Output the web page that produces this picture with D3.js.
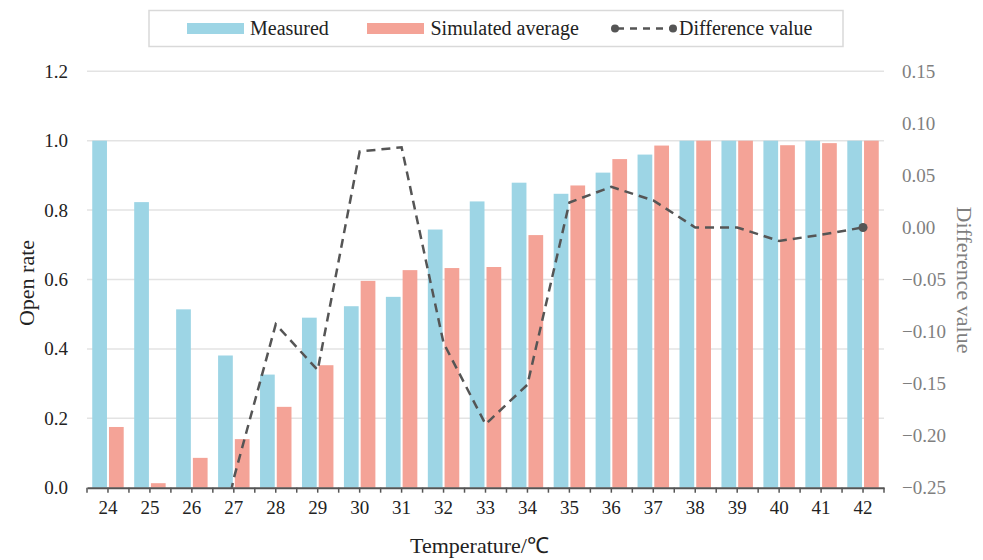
<!DOCTYPE html>
<html><head><meta charset="utf-8">
<script src="https://cdn.jsdelivr.net/npm/d3@7"></script>
<style>body{margin:0;background:#fff}svg{display:block}</style>
</head><body>
<svg id="c" width="983" height="560" font-family="Liberation Serif"></svg>
<script>
const categories = ["24","25","26","27","28","29","30","31","32","33","34","35","36","37","38","39","40","41","42"];
const measured  = [1.0,0.823,0.514,0.381,0.326,0.490,0.523,0.550,0.744,0.825,0.879,0.847,0.908,0.960,1.0,1.0,1.0,1.0,1.0];
const simulated = [0.175,0.013,0.086,0.140,0.233,0.353,0.596,0.627,0.633,0.636,0.728,0.871,0.947,0.986,1.0,1.0,0.987,0.993,1.0];
const difference = [-0.825,-0.810,-0.428,-0.241,-0.093,-0.137,0.073,0.077,-0.111,-0.189,-0.151,0.024,0.039,0.026,0.0,0.0,-0.013,-0.007,0.0];
const leftTicks = [0,0.2,0.4,0.6,0.8,1.0,1.2];
const rightTicks = [0.15,0.10,0.05,0.00,-0.05,-0.10,-0.15,-0.20,-0.25];

const FONT = "Liberation Serif";
const svg = d3.select("#c");
const L = 87, R = 884, T = 71.3, B = 487.7;
const blue = "#9dd5e5", pink = "#f4a397", lineC = "#555555";

const x = d3.scaleBand().domain(categories).range([L,R]).paddingInner(0.25).paddingOuter(0.125);
const xs = d3.scaleBand().domain(["m","s"]).range([0,x.bandwidth()]).paddingInner(0.12);
const y = d3.scaleLinear().domain([0,1.2]).range([B,T]);
const y2 = d3.scaleLinear().domain([-0.25,0.15]).range([B,T]);

// grid
svg.append("g").selectAll("line").data(leftTicks.slice(1)).join("line")
  .attr("x1",L).attr("x2",R).attr("y1",d=>y(d)).attr("y2",d=>y(d))
  .attr("stroke","#e3e3e3").attr("stroke-width",1.5);

// bars
const g = svg.append("g");
g.selectAll("rect.m").data(categories).join("rect").attr("class","m")
  .attr("x",d=>x(d)+xs("m")).attr("width",xs.bandwidth())
  .attr("y",(d,i)=>y(measured[i])).attr("height",(d,i)=>B-y(measured[i])).attr("fill",blue);
g.selectAll("rect.s").data(categories).join("rect").attr("class","s")
  .attr("x",d=>x(d)+xs("s")).attr("width",xs.bandwidth())
  .attr("y",(d,i)=>y(simulated[i])).attr("height",(d,i)=>B-y(simulated[i])).attr("fill",pink);

// line clipped to plot
svg.append("clipPath").attr("id","clip").append("rect").attr("x",L).attr("y",T-10).attr("width",R-L).attr("height",B-T+10);
const cx = d=>x(d)+x.bandwidth()/2;
const line = d3.line().x((d,i)=>cx(categories[i])).y(d=>y2(d));
svg.append("path").datum(difference).attr("d",line).attr("clip-path","url(#clip)")
  .attr("fill","none").attr("stroke",lineC).attr("stroke-width",2.5).attr("stroke-dasharray","9,6");
svg.append("circle").attr("cx",cx(categories[categories.length-1])).attr("cy",y2(difference[difference.length-1]))
  .attr("r",4.5).attr("fill",lineC);

// x axis
const xa = svg.append("g").attr("transform",`translate(0,${B})`).call(d3.axisBottom(x).tickSize(5).tickSizeOuter(0).tickPadding(8));
xa.attr("font-family",FONT);
xa.select(".domain").attr("stroke","#555").attr("stroke-width",2);
xa.selectAll(".tick line").attr("stroke","#555").attr("stroke-width",1.5);
xa.selectAll("text").attr("font-size",19).attr("fill","#222");
const step = x.step();
const bounds = categories.map(c=>cx(c)-step/2).concat([cx(categories[categories.length-1])+step/2]);
xa.selectAll("line.b").data(bounds).join("line").attr("class","b")
  .attr("x1",d=>d).attr("x2",d=>d).attr("y1",0).attr("y2",5).attr("stroke","#555").attr("stroke-width",1.5);

// left axis
const ya = svg.append("g").attr("transform",`translate(${L},0)`).call(d3.axisLeft(y).tickValues(leftTicks).tickFormat(d3.format(".1f")).tickSize(0).tickPadding(19));
ya.attr("font-family",FONT);
ya.select(".domain").remove();
ya.selectAll("text").attr("font-size",19).attr("fill","#222");

// right axis
const ra = svg.append("g").attr("transform",`translate(${R},0)`).call(d3.axisRight(y2).tickValues(rightTicks).tickFormat(d3.format(".2f")).tickSize(0).tickPadding(18));
ra.attr("font-family",FONT);
ra.select(".domain").remove();
ra.selectAll("text").attr("font-size",19).attr("fill","#7f7f7f");

// titles
svg.append("text").attr("x",479.5).attr("y",553).attr("text-anchor","middle").attr("font-size",22).attr("fill","#222").text("Temperature/℃");
svg.append("text").attr("transform","translate(34,283) rotate(-90)").attr("text-anchor","middle").attr("font-size",22).attr("fill","#222").text("Open rate");
svg.append("text").attr("transform","translate(957,280) rotate(90)").attr("text-anchor","middle").attr("font-size",22).attr("fill","#7f7f7f").text("Difference value");

// legend
const lg = svg.append("g");
lg.append("rect").attr("x",149).attr("y",10.5).attr("width",694).attr("height",36).attr("fill","#fff").attr("stroke","#d9d9d9").attr("stroke-width",1.5);
lg.append("rect").attr("x",187).attr("y",23).attr("width",57).attr("height",11).attr("fill",blue);
lg.append("text").attr("x",250).attr("y",34.5).attr("font-size",20).attr("fill","#222").text("Measured");
lg.append("rect").attr("x",367).attr("y",23).attr("width",57).attr("height",11).attr("fill",pink);
lg.append("text").attr("x",430.5).attr("y",34.5).attr("font-size",20).attr("fill","#222").text("Simulated average");
lg.append("line").attr("x1",615).attr("x2",673).attr("y1",28.5).attr("y2",28.5).attr("stroke",lineC).attr("stroke-width",2.5).attr("stroke-dasharray","7,6").attr("stroke-dashoffset",-2);
lg.append("circle").attr("cx",615).attr("cy",28.5).attr("r",4).attr("fill",lineC);
lg.append("circle").attr("cx",673).attr("cy",28.5).attr("r",4).attr("fill",lineC);
lg.append("text").attr("x",679).attr("y",34.5).attr("font-size",20).attr("fill","#222").text("Difference value");
</script>
</body></html>
